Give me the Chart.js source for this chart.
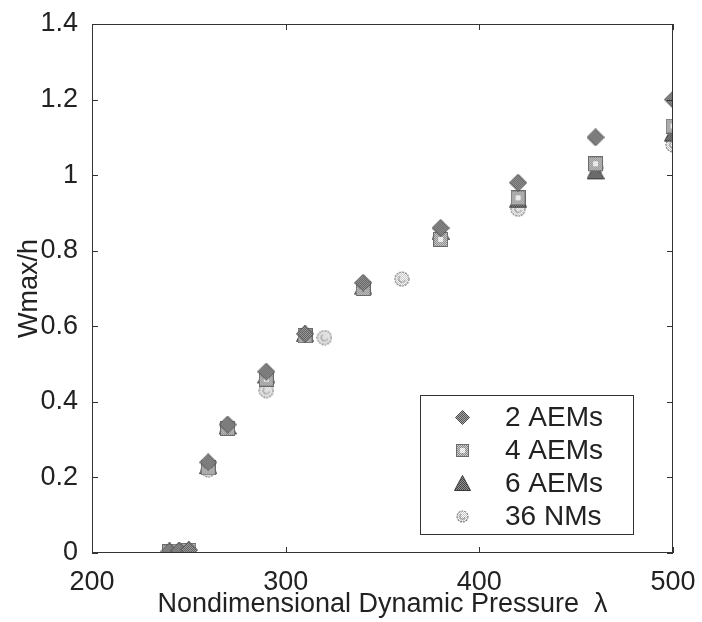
<!DOCTYPE html>
<html>
<head>
<meta charset="utf-8">
<script src="https://cdn.jsdelivr.net/npm/chart.js@4/dist/chart.umd.min.js"></script>
<style>
  html, body { margin: 0; padding: 0; background: #fff; }
  #wrap { width: 702px; height: 622px; }
</style>
</head>
<body>
<div id="wrap"><canvas id="flutter_chart"></canvas></div>
<script>
// dynamic pressure values and max deflection per model
const aem2X = [240, 245, 250, 260, 270, 290, 310, 340, 380, 420, 460, 500];
const aem2Y = [0.004, 0.006, 0.008, 0.24, 0.34, 0.48, 0.58, 0.715, 0.86, 0.98, 1.10, 1.20];
const aem4X = [240, 245, 250, 260, 270, 290, 310, 340, 380, 420, 460, 500];
const aem4Y = [0.003, 0.005, 0.007, 0.225, 0.33, 0.46, 0.575, 0.70, 0.83, 0.94, 1.03, 1.13];
const aem6X = [240, 245, 250, 260, 270, 290, 310, 340, 380, 420, 460, 500];
const aem6Y = [0.004, 0.006, 0.008, 0.23, 0.335, 0.47, 0.58, 0.705, 0.85, 0.935, 1.01, 1.11];
const nmX = [245, 260, 290, 320, 360, 420, 460, 500];
const nmY = [0.005, 0.22, 0.43, 0.57, 0.725, 0.91, 1.02, 1.08];

const xTicks = [200, 300, 400, 500];
const yTicks = [0, 0.2, 0.4, 0.6, 0.8, 1, 1.2, 1.4];
const seriesNames = ['2 AEMs', '4 AEMs', '6 AEMs', '36 NMs'];

const FONT = '"Liberation Sans", Arial, sans-serif';
const INK = '#222';

// checker pattern so the markers get a dotted, printed look
function checker(g, c1, c2) {
    const cv = document.createElement('canvas');
    cv.width = 2; cv.height = 2;
    const p = cv.getContext('2d');
    p.fillStyle = c1; p.fillRect(0, 0, 2, 2);
    p.fillStyle = c2; p.fillRect(0, 0, 1, 1); p.fillRect(1, 1, 1, 1);
    return g.createPattern(cv, 'repeat');
}

function markerCanvas(w, h, draw) {
    const cv = document.createElement('canvas');
    cv.width = w; cv.height = h;
    draw(cv.getContext('2d'), w, h);
    return cv;
}

function diamond(size) {
    return markerCanvas(size, size, (g, w, h) => {
        g.beginPath();
        g.moveTo(w / 2, 0.5); g.lineTo(w - 0.5, h / 2); g.lineTo(w / 2, h - 0.5); g.lineTo(0.5, h / 2);
        g.closePath();
        g.fillStyle = checker(g, '#555', '#a5a5a5'); g.fill();
        g.strokeStyle = '#4a4a4a'; g.lineWidth = 1; g.stroke();
    });
}

function square(size) {
    return markerCanvas(size, size, (g, w, h) => {
        g.fillStyle = checker(g, '#888', '#cfcfcf');
        g.fillRect(0, 0, w, h);
        g.strokeStyle = '#6a6a6a'; g.lineWidth = 1;
        g.strokeRect(0.5, 0.5, w - 1, h - 1);
        const c = Math.round(w * 0.33);
        g.fillStyle = checker(g, '#d8d8d8', '#fff');
        g.fillRect(c, c, w - 2 * c, h - 2 * c);
    });
}

function triangle(size) {
    return markerCanvas(size, size, (g, w, h) => {
        g.beginPath();
        g.moveTo(w / 2, 0.5); g.lineTo(w - 0.5, h - 1.5); g.lineTo(0.5, h - 1.5);
        g.closePath();
        g.fillStyle = checker(g, '#444', '#939393'); g.fill();
        g.strokeStyle = '#3a3a3a'; g.lineWidth = 1; g.stroke();
    });
}

function ring(size) {
    return markerCanvas(size, size, (g, w, h) => {
        g.beginPath();
        g.arc(w / 2, h / 2, w / 2 - 1, 0, Math.PI * 2);
        g.fillStyle = checker(g, '#c4c4c4', '#fff'); g.fill();
        g.setLineDash([2, 1]);
        g.strokeStyle = '#808080'; g.lineWidth = 1.2; g.stroke();
        g.setLineDash([]);
        g.beginPath();
        g.arc(w / 2, h / 2, w / 5, 0.3, 4.2);
        g.strokeStyle = '#9a9a9a'; g.stroke();
    });
}

const plotMarkers = [diamond(18), square(15), triangle(18), ring(16)];
const legendMarkers = [diamond(15), square(13), triangle(17), ring(13)];

function toPoints(xs, ys) {
    return xs.map((x, i) => ({ x: x, y: ys[i] }));
}

const seriesData = [toPoints(aem2X, aem2Y), toPoints(aem4X, aem4Y), toPoints(aem6X, aem6Y), toPoints(nmX, nmY)];

// frame: full box plus inward ticks on all four sides
const boxPlugin = {
    id: 'box',
    afterDraw(chart) {
        const { ctx, chartArea: a, scales } = chart;
        ctx.save();
        ctx.strokeStyle = '#333';
        ctx.lineWidth = 1;
        ctx.strokeRect(a.left + 0.5, a.top + 0.5, a.right - a.left - 1, a.bottom - a.top - 1);
        ctx.beginPath();
        xTicks.forEach(v => {
            const px = Math.round(scales.x.getPixelForValue(v)) + 0.5;
            ctx.moveTo(px, a.bottom); ctx.lineTo(px, a.bottom - 6);
            ctx.moveTo(px, a.top); ctx.lineTo(px, a.top + 6);
        });
        yTicks.forEach(v => {
            const py = Math.round(scales.y.getPixelForValue(v)) + 0.5;
            ctx.moveTo(a.left, py); ctx.lineTo(a.left + 6, py);
            ctx.moveTo(a.right, py); ctx.lineTo(a.right - 6, py);
        });
        ctx.stroke();
        ctx.restore();
    }
};

// legend box in the lower right of the plot
const legendPlugin = {
    id: 'boxLegend',
    afterDraw(chart) {
        const ctx = chart.ctx;
        const left = 420, top = 395, right = 633, bottom = 534;
        ctx.save();
        ctx.fillStyle = '#fff';
        ctx.fillRect(left, top, right - left, bottom - top);
        ctx.strokeStyle = '#333';
        ctx.lineWidth = 1;
        ctx.strokeRect(left + 0.5, top + 0.5, right - left, bottom - top);
        ctx.font = '28px ' + FONT;
        ctx.textBaseline = 'middle';
        ctx.fillStyle = INK;
        seriesNames.forEach((name, i) => {
            const y = 417 + i * 33;
            const m = legendMarkers[i];
            ctx.drawImage(m, Math.round(462 - m.width / 2), Math.round(y - m.height / 2));
            ctx.fillText(name, 505, y + 1);
        });
        ctx.restore();
    }
};

new Chart(document.getElementById('flutter_chart'), {
    type: 'scatter',
    data: {
        datasets: seriesData.map((pts, i) => ({
            label: seriesNames[i],
            data: pts,
            pointStyle: plotMarkers[i],
            pointRadius: 9,
            pointHoverRadius: 9
        }))
    },
    options: {
        responsive: true,
        maintainAspectRatio: false,
        animation: false,
        layout: { padding: { left: 0, right: 29, top: 24, bottom: 0 } },
        plugins: { legend: { display: false }, tooltip: { enabled: false } },
        scales: {
            x: {
                type: 'linear',
                min: 200, max: 500,
                grid: { display: false },
                border: { display: false },
                afterBuildTicks: s => { s.ticks = xTicks.map(v => ({ value: v })); },
                afterFit: s => { s.height = 69; },
                ticks: { color: INK, font: { family: FONT, size: 27 }, padding: 5, maxRotation: 0 },
                title: { display: true, text: 'Nondimensional Dynamic Pressure  λ', color: INK,
                    font: { family: FONT, size: 27 }, padding: { top: 0, bottom: 1 } }
            },
            y: {
                min: 0, max: 1.4,
                grid: { display: false },
                border: { display: false },
                afterBuildTicks: s => { s.ticks = yTicks.map(v => ({ value: v })); },
                afterFit: s => { s.width = 92; },
                ticks: { color: INK, font: { family: FONT, size: 27 }, padding: 6,
                    callback: v => String(Math.round(v * 10) / 10) },
                title: { display: true, text: 'Wmax/h', color: INK,
                    font: { family: FONT, size: 27 }, padding: { top: 13, bottom: 0 } }
            }
        }
    },
    plugins: [boxPlugin, legendPlugin]
});
</script>
</body>
</html>
